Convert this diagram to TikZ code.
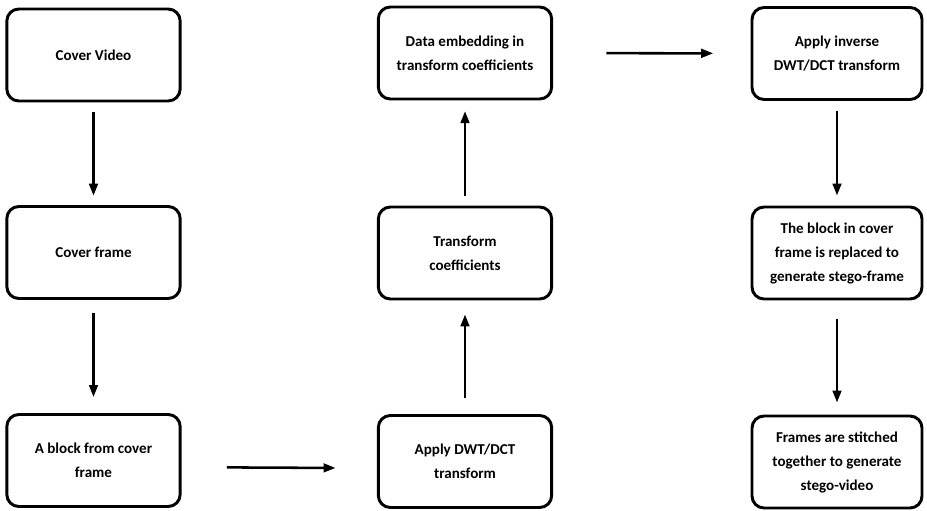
\documentclass[tikz,border=0pt]{standalone}
\usepackage{fontspec}
\setmainfont{Carlito}
\usetikzlibrary{arrows.meta}
\begin{document}
\begin{tikzpicture}[x=0.75pt, y=-0.75pt,
          proc box/.style={draw, line width=2.2pt, rounded corners=9pt, align=center,
            minimum width=130pt, minimum height=69pt, inner sep=2pt,
            font=\fontsize{11.3}{18}\selectfont\bfseries},
          flow arrow/.style={line width=1.9pt, -{Triangle[length=9pt, width=6.5pt]}}]
          \useasboundingbox (0,0) rectangle (927,510);
          % left column
          \node[proc box] (video) at (93.5,55) {Cover Video};
          \node[proc box] (frame) at (93.5,252.5) {Cover frame};
          \node[proc box] (block) at (93.5,460.5) {A block from cover\\frame};
          % middle column
          \node[proc box] (dwt) at (465,461.5) {Apply DWT/DCT\\transform};
          \node[proc box] (coef) at (465,253) {Transform\\coefficients};
          \node[proc box] (embed) at (465,53) {Data embedding in\\transform coefficients};
          % right column
          \node[proc box, minimum width=127.5pt] (inverse) at (837,53.5) {Apply inverse\\DWT/DCT transform};
          \node[proc box, minimum width=127.5pt] (replace) at (837,253) {The block in cover\\frame is replaced to\\generate stego-frame};
          \node[proc box, minimum width=127.5pt] (stitch) at (837,462) {Frames are stitched\\together to generate\\stego-video};
          \draw[flow arrow, shorten <=7pt, shorten >=7pt] (video) -- (frame);
          \draw[flow arrow, shorten <=10pt, shorten >=12pt] (frame) -- (block);
          \draw[flow arrow, shorten <=34pt, shorten >=31pt] ([yshift=-5pt]block.east) -- ([yshift=-5pt]dwt.west);
          \draw[flow arrow, shorten <=12pt, shorten >=10.5pt] (dwt) -- (coef);
          \draw[flow arrow, shorten <=7.5pt, shorten >=8pt] (coef) -- (embed);
          \draw[flow arrow, shorten <=40pt, shorten >=28pt] (embed) -- (inverse);
          \draw[flow arrow, shorten <=7.5pt, shorten >=7.5pt] (inverse) -- (replace);
          \draw[flow arrow, shorten <=14pt, shorten >=9pt] (replace) -- (stitch);
      \end{tikzpicture}
\end{document}
